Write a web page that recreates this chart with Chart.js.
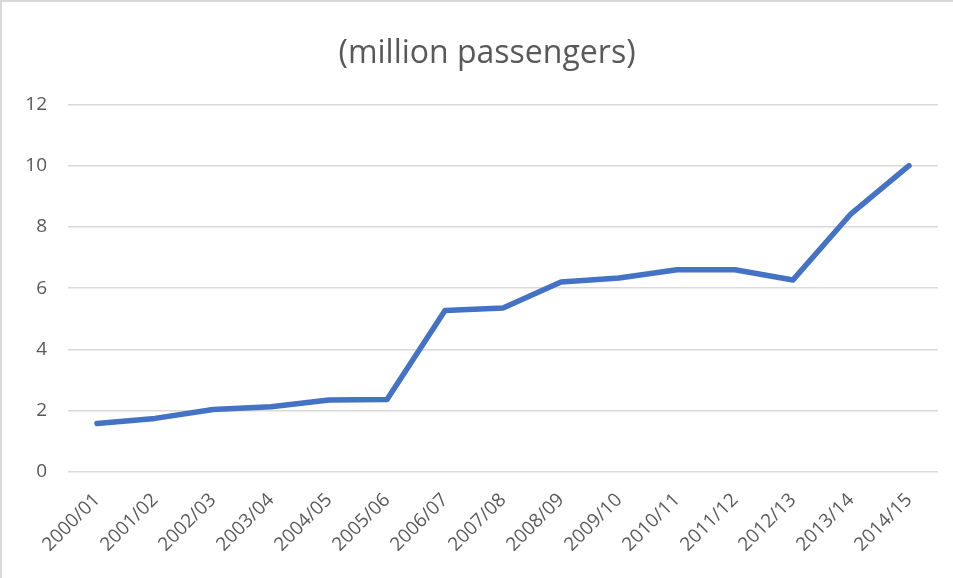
<!DOCTYPE html>
<html>
<head>
<meta charset="utf-8">
<script src="https://cdn.jsdelivr.net/npm/chart.js@4/dist/chart.umd.min.js"></script>
<style>
  html, body { margin: 0; padding: 0; background: #fff; }
  #wrap { position: absolute; left: 0; top: 0; width: 953px; height: 578px; box-sizing: border-box; border-top: 2px solid #d9d9d9; border-left: 2px solid #d9d9d9; }
  canvas { display: block; }
</style>
</head>
<body>
<div id="wrap"><canvas id="chart" width="951" height="576"></canvas></div>
<script>
// years on the x axis
var years = ['2000/01', '2001/02', '2002/03', '2003/04', '2004/05', '2005/06', '2006/07', '2007/08',
    '2008/09', '2009/10', '2010/11', '2011/12', '2012/13', '2013/14', '2014/15'];
// passengers, millions
var passengers = [1.58, 1.75, 2.04, 2.13, 2.35, 2.37, 5.27, 5.35, 6.2, 6.33, 6.6, 6.6, 6.27, 8.43, 10.0];
var yTicks = [0, 2, 4, 6, 8, 10, 12];

var grey = '#595959';
var fontFam = '"Open Sans", "Noto Sans", sans-serif';

// title sits centred over the plot rather than the whole canvas
var titleShift = {
    id: 'titleShift',
    afterLayout: function(chart) {
        if (chart.titleBlock) chart.titleBlock.left = 34;
    }
};

var ctx = document.getElementById('chart').getContext('2d');
var chart = new Chart(ctx, {
    type: 'line',
    data: {
        labels: years,
        datasets: [{
            label: 'passengers',
            data: passengers,
            borderColor: '#4472C4',
            backgroundColor: '#4472C4',
            borderWidth: 5.5,
            borderJoinStyle: 'round',
            borderCapStyle: 'round',
            pointRadius: 0,
            tension: 0
        }]
    },
    options: {
        responsive: false,
        animation: false,
        layout: { padding: { left: 0, right: 15, top: 0, bottom: 0 } },
        plugins: {
            legend: { display: false },
            tooltip: { enabled: false },
            title: {
                display: true,
                text: '(million passengers)',
                color: grey,
                font: { family: fontFam, size: 32, weight: 'normal' },
                padding: { top: 33, bottom: 31 }
            }
        },
        scales: {
            x: {
                offset: true,
                grid: { display: false },
                border: { display: false },
                ticks: {
                    color: grey,
                    font: { family: fontFam, size: 19 },
                    minRotation: 45,
                    maxRotation: 45,
                    autoSkip: false,
                    padding: 9
                },
                afterFit: function(scale) { scale.height = 106; }
            },
            y: {
                min: 0,
                max: 12,
                afterBuildTicks: function(scale) {
                    scale.ticks = yTicks.map(v => ({ value: v }));
                },
                grid: { color: '#d9d9d9', lineWidth: 1.5, drawTicks: false },
                border: { display: false },
                ticks: {
                    color: grey,
                    font: { family: fontFam, size: 19 },
                    padding: 21
                },
                afterFit: function(scale) { scale.width = 66; }
            }
        }
    },
    plugins: [titleShift]
});
</script>
</body>
</html>
